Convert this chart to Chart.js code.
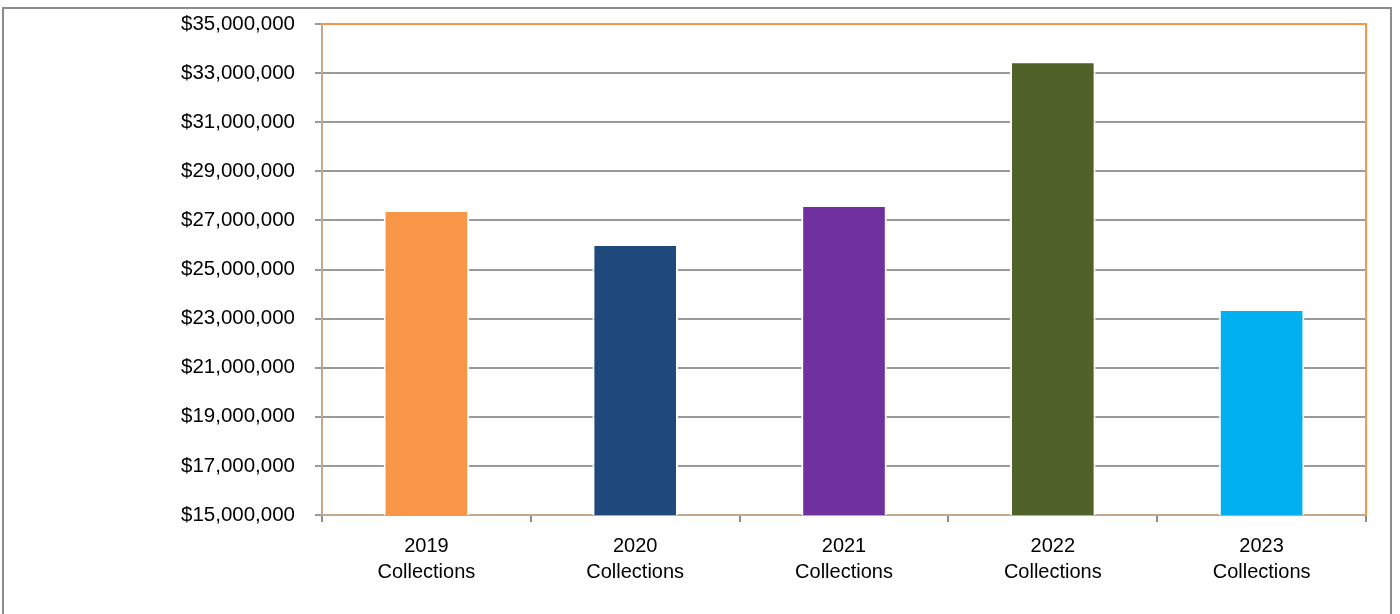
<!DOCTYPE html>
<html>
<head>
<meta charset="utf-8">
<script src="https://cdn.jsdelivr.net/npm/chart.js@4"></script>
<style>
  html, body { margin: 0; padding: 0; background: #fff; }
  #wrap { position: relative; width: 1400px; height: 614px; }
</style>
</head>
<body>
<div id="wrap"><canvas id="chart" width="1400" height="614"></canvas></div>
<script>
// Chart data
const categories = [["2019", "Collections"], ["2020", "Collections"], ["2021", "Collections"], ["2022", "Collections"], ["2023", "Collections"]];
const collections = [27420000, 26040000, 27630000, 33480000, 23390000];
const barColors = ["#F79646", "#1F497D", "#7030A0", "#4F6228", "#00B0F0"];
const yMin = 15000000;
const yMax = 35000000;
const yStep = 2000000;

// Format as $12,345,678
function formatDollars(v) {
  return "$" + v.toString().replace(/\B(?=(\d{3})+(?!\d))/g, ",");
}

// Outer frame plus orange top/right edges of the plot area
const framePlugin = {
  id: "frame",
  beforeDraw(chart) {
    const ctx = chart.ctx;
    ctx.save();
    ctx.fillStyle = "#fff";
    ctx.fillRect(0, 0, chart.width, chart.height);
    ctx.strokeStyle = "#8c8c8c";
    ctx.lineWidth = 2;
    ctx.beginPath();
    ctx.moveTo(3, 620);
    ctx.lineTo(3, 8);
    ctx.lineTo(1391, 8);
    ctx.lineTo(1391, 620);
    ctx.stroke();
    ctx.restore();
  },
  afterDraw(chart) {
    const a = chart.chartArea;
    const ctx = chart.ctx;
    ctx.save();
    ctx.strokeStyle = "#F79646";
    ctx.lineWidth = 2;
    ctx.beginPath();
    ctx.moveTo(a.left, a.top);
    ctx.lineTo(a.right, a.top);
    ctx.lineTo(a.right, a.bottom);
    ctx.stroke();
    ctx.restore();
  }
};

const ctx = document.getElementById("chart").getContext("2d");
new Chart(ctx, {
  type: "bar",
  data: {
    labels: categories,
    datasets: [
      {
        label: "Collections",
        data: collections,
        backgroundColor: barColors,
        borderColor: "#ffffff",
        borderWidth: 2,
        barPercentage: 0.41,
        categoryPercentage: 1.0,
      },
    ],
  },
  options: {
    responsive: false,
    animation: false,
    layout: {
      padding: { top: 24, right: 34, left: 0, bottom: 0 },
    },
    plugins: {
      legend: { display: false },
      tooltip: { enabled: false },
    },
    scales: {
      x: {
        offset: true,
        grid: {
          offset: true,
          drawOnChartArea: false,
          drawTicks: true,
          tickLength: 7,
          color: "#8c8c8c",
          lineWidth: 2,
        },
        border: { color: "#c4a88e", width: 2 },
        ticks: {
          color: "#000",
          padding: 11,
          maxRotation: 0,
          font: { family: "Liberation Sans", size: 20, lineHeight: 1.3 },
        },
        afterFit(scale) {
          scale.height = 99;
          scale.paddingLeft = 0;
          scale.paddingRight = 0;
        },
      },
      y: {
        min: yMin,
        max: yMax,
        grid: {
          color: "#999999",
          lineWidth: 2,
          drawTicks: true,
          tickLength: 7,
        },
        border: { color: "#c4a88e", width: 2 },
        ticks: {
          stepSize: yStep,
          color: "#000",
          padding: 20,
          font: { family: "Liberation Sans", size: 20.5 },
          callback: (v) => formatDollars(v),
        },
        afterFit(scale) {
          scale.width = 322;
          scale.paddingTop = 0;
          scale.paddingBottom = 0;
        },
      },
    },
  },
  plugins: [framePlugin],
});
</script>
</body>
</html>
